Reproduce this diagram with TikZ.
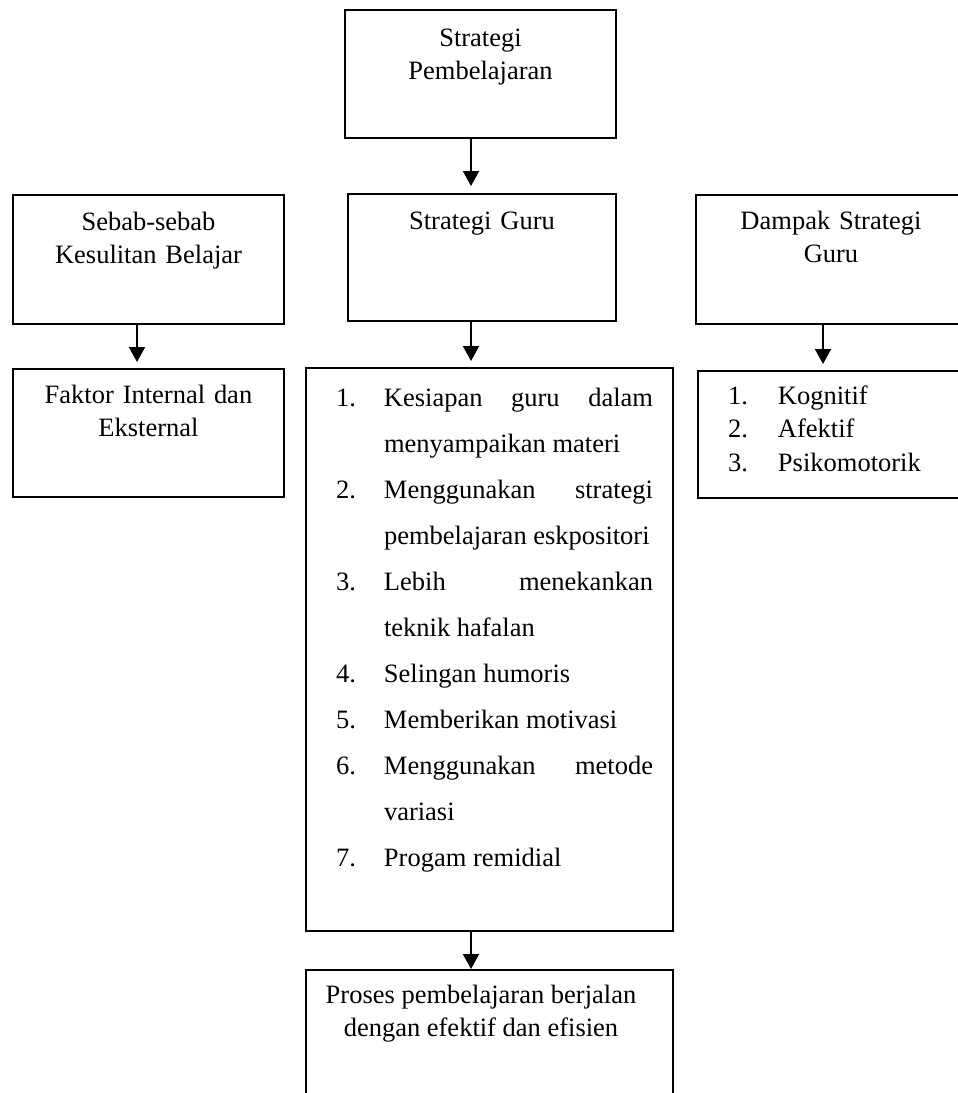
\documentclass[tikz,border=0pt]{standalone}
\usepackage{fontspec}
\setmainfont{Liberation Serif}
\usetikzlibrary{arrows.meta}

\newcommand\gitem[3]{\hangindent=#1\hangafter=1\noindent\makebox[#1][l]{#2}#3\par}

\begin{document}
\begin{tikzpicture}[x=0.5pt,y=-0.5pt,
	box/.style={draw,line width=1pt,anchor=north west,inner sep=0pt,align=center},
	listbox/.style={draw,line width=1pt,anchor=north west,inner sep=0pt},
	arr/.style={line width=1pt,-{Triangle[length=7.5pt,width=8pt]}}]
\fontsize{13.25}{16.5}\selectfont
\useasboundingbox (0,0) rectangle (958,1093);
	\draw (344,  9) node[box,text width=135.5pt,text height=18pt,text depth=46pt]   (SP) {Strategi\\Pembelajaran};
	\draw (12, 194) node[box,text width=135.5pt,text height=17.5pt,text depth=47pt] (SB) {Sebab-sebab\\Kesulitan Belajar};
	\draw (347,193) node[box,text width=134pt,text height=17.5pt,text depth=46pt]   (SG) {Strategi Guru};
	\draw (695,194) node[box,text width=135pt,text height=17pt,text depth=47.5pt]   (DS) {Dampak Strategi\\Guru};
	\draw (12, 368) node[box,text width=135.5pt,text height=17pt,text depth=47pt]   (FI) {Faktor Internal dan\\Eksternal};
	\draw (697,370) node[listbox,text height=16.5pt,text depth=47pt] (DP)
		{\parbox[t]{134pt}{\leftskip=15pt\rightskip=0pt plus 1fil\parfillskip=0pt plus 1fil
		 \baselineskip=16.75pt
		 \gitem{25pt}{1.}{Kognitif}
		 \gitem{25pt}{2.}{Afektif}
		 \gitem{25pt}{3.}{Psikomotorik}}};
	\draw (305,367) node[listbox,text height=19pt,text depth=262.5pt] (ML)
		{\parbox[t]{183.5pt}{\leftskip=15pt\rightskip=10pt\parfillskip=0pt plus 1fil
		 \baselineskip=23pt\hyphenpenalty=10000
		 \gitem{24pt}{1.}{Kesiapan guru dalam\linebreak menyampaikan materi}
		 \gitem{24pt}{2.}{Menggunakan strategi\linebreak pembelajaran eskpositori}
		 \gitem{24pt}{3.}{Lebih menekankan\linebreak teknik hafalan}
		 \gitem{24pt}{4.}{Selingan humoris}
		 \gitem{24pt}{5.}{Memberikan motivasi}
		 \gitem{24pt}{6.}{Menggunakan metode\linebreak variasi}
		 \gitem{24pt}{7.}{Progam remidial}}};
	\draw (305,969) node[listbox,text height=16.5pt,text depth=56pt] (PP)
		{\parbox[t]{183.5pt}{\leftskip=0pt plus 1fil\rightskip=8.5pt plus 1fil\parfillskip=0pt
		 \noindent Proses pembelajaran berjalan\break dengan efektif dan efisien\par}};
	\draw ([xshift=-4.75pt]SP.south) edge[arr,shorten >=3.5pt] ([xshift=-5.5pt]SG.north);
	\draw ([xshift=-5.75pt]SB.south) edge[arr,shorten >=3pt]   ([xshift=-5.75pt]FI.north);
	\draw ([xshift=-5.5pt]SG.south)  edge[arr,shorten >=3pt]   ([xshift=-9.25pt]ML.north);
	\draw ([xshift=-4pt]DS.south)    edge[arr,shorten >=3pt]   ([xshift=-4.5pt]DP.north);
	\draw ([xshift=-9.25pt]ML.south) edge[arr]                 ([xshift=-9.25pt]PP.north);
\end{tikzpicture}
\end{document}
